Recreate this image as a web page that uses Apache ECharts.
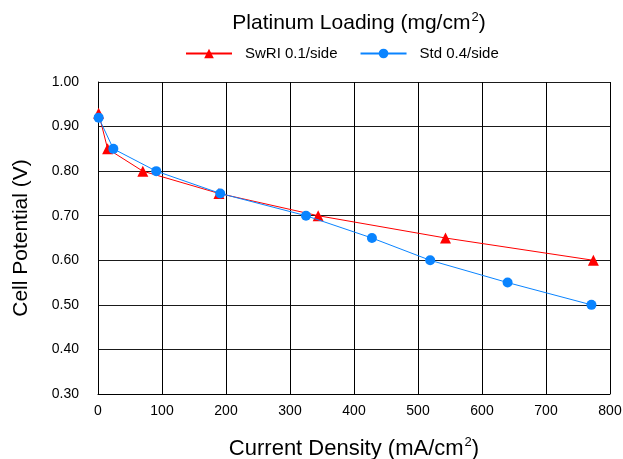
<!DOCTYPE html>
<html>
<head>
<meta charset="utf-8">
<script src="https://cdn.jsdelivr.net/npm/echarts@6/dist/echarts.min.js"></script>
<style>
  html, body { margin: 0; padding: 0; background: #fff; }
  #chart { width: 623px; height: 459px; }
</style>
</head>
<body>
<div id="chart"></div>
<script>
// Polarization curves: current density (mA/cm2) vs. cell potential (V)
const swriCurrent = [1, 15, 70, 189, 344, 543, 774];
const swriVoltage = [0.93, 0.85, 0.80, 0.75, 0.70, 0.65, 0.60];

const stdCurrent = [1, 24, 91, 191, 325, 428, 519, 640, 771];
const stdVoltage = [0.92, 0.85, 0.80, 0.75, 0.70, 0.65, 0.60, 0.55, 0.50];

const seriesNames = ['SwRI 0.1/side', 'Std 0.4/side'];

const xTicks = [0, 100, 200, 300, 400, 500, 600, 700, 800];
const yTicks = [0.30, 0.40, 0.50, 0.60, 0.70, 0.80, 0.90, 1.00];

const pairs = (xs, ys) => xs.map((x, i) => [x, ys[i]]);
const font = 'Liberation Sans, Arial, sans-serif';
const supStyle = (size, lift) => ({
  fontSize: size, verticalAlign: 'top', padding: [0, 0, lift, 1], fontFamily: font, color: '#000'
});

const chart = echarts.init(document.getElementById('chart'), null, { renderer: 'canvas' });
chart.setOption({
  animation: false,
  backgroundColor: '#ffffff',
  textStyle: { fontFamily: font, color: '#000' },
  title: {
    text: 'Platinum Loading (mg/cm{sup|2})',
    left: 354,
    textAlign: 'center',
    top: 6,
    textStyle: {
      fontFamily: font,
      fontSize: 21,
      fontWeight: 'normal',
      color: '#000',
      rich: { sup: supStyle(13, 12) }
    }
  },
  legend: {
    top: 41,
    left: 180,
    itemWidth: 46,
    itemHeight: 12,
    itemGap: 22,
    textStyle: { fontFamily: font, fontSize: 15, color: '#000', padding: [0, 0, 0, 8] },
    data: seriesNames
  },
  grid: { left: 98, right: 13, top: 82, bottom: 65, containLabel: false, outerBoundsMode: 'none' },
  xAxis: {
    type: 'value',
    min: xTicks[0],
    max: xTicks[xTicks.length - 1],
    interval: 100,
    name: 'Current Density (mA/cm{sup|2})',
    nameLocation: 'middle',
    nameGap: 42,
    nameTextStyle: {
      fontFamily: font, fontSize: 22, color: '#000',
      rich: { sup: supStyle(13, 12) }
    },
    axisLine: { lineStyle: { color: '#000', width: 1 } },
    axisTick: { show: false },
    axisLabel: { fontFamily: font, fontSize: 14, color: '#000', margin: 10 },
    splitLine: { show: true, lineStyle: { color: '#000', width: 1 } }
  },
  yAxis: {
    type: 'value',
    min: yTicks[0],
    max: yTicks[yTicks.length - 1],
    interval: 0.1,
    name: 'Cell Potential (V)',
    nameLocation: 'middle',
    nameGap: 66,
    nameTextStyle: { fontFamily: font, fontSize: 21, color: '#000' },
    axisLine: { show: true, lineStyle: { color: '#000', width: 1 } },
    axisTick: { show: false },
    axisLabel: {
      fontFamily: font, fontSize: 14, color: '#000', margin: 19,
      formatter: v => v.toFixed(2)
    },
    splitLine: { show: true, lineStyle: { color: '#1a1a1a', width: 1 } }
  },
  series: [
    {
      name: seriesNames[0],
      type: 'line',
      data: pairs(swriCurrent, swriVoltage),
      symbol: 'triangle',
      symbolSize: 11,
      itemStyle: { color: '#ff0000' },
      lineStyle: { color: '#ff0000', width: 1 },
      z: 3
    },
    {
      name: seriesNames[1],
      type: 'line',
      data: pairs(stdCurrent, stdVoltage),
      symbol: 'circle',
      symbolSize: 10,
      itemStyle: { color: '#0a84ff' },
      lineStyle: { color: '#0a84ff', width: 1 },
      z: 4
    }
  ]
});
</script>
</body>
</html>
